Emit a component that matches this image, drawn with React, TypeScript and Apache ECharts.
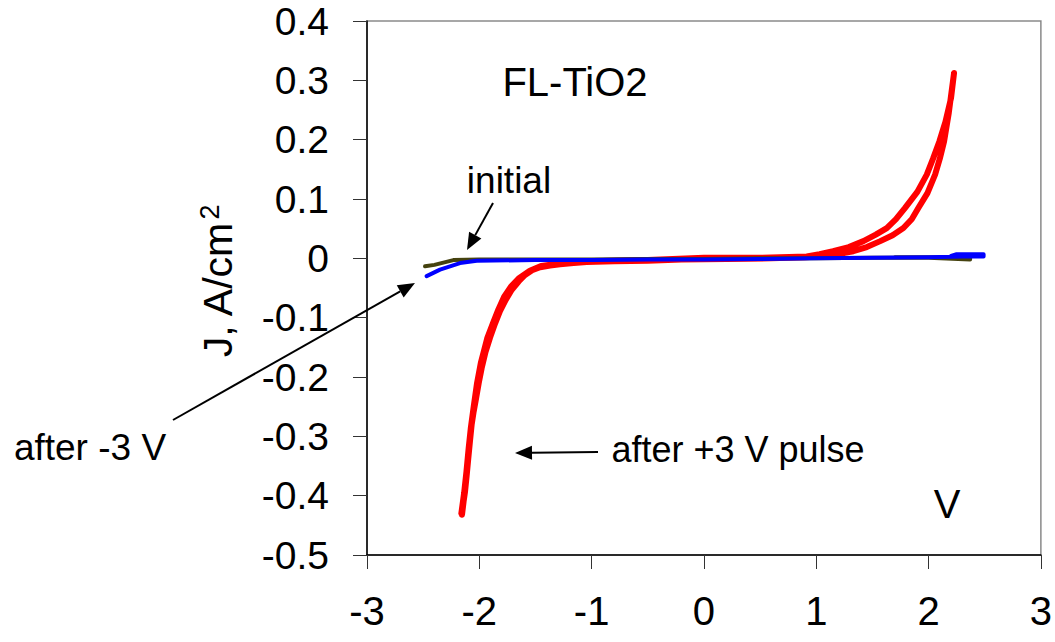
import React, { useEffect, useRef } from "react";
import * as echarts from "echarts";

// Voltage (V) and current density (A/cm2)
const redV = [-2.154, -2.14, -2.127, -2.112, -2.098, -2.083, -2.068, -2.05, -2.029, -2.005, -1.979, -1.945, -1.905, -1.86, -1.816, -1.765, -1.711, -1.65, -1.593, -1.53, -1.459, -1.37, -1.281, -1.16, -1.044, -0.8, -0.5, -0.2, 0.2, 0.6, 0.9, 1.1, 1.33, 1.45, 1.57, 1.68, 1.776, 1.85, 1.909, 1.99, 2.058, 2.1, 2.138, 2.18, 2.227, 2.2, 2.15, 2.096, 2.04, 1.984, 1.9, 1.791, 1.71, 1.628, 1.53, 1.42, 1.29, 1.15, 1.03, 0.915, 0.5, 0.0, -0.5, -1.0, -1.3, -1.45, -1.55, -1.65, -1.72, -1.78, -1.83, -1.88, -1.93, -1.985, -2.02, -2.05, -2.075, -2.095, -2.115, -2.135, -2.16];
const redJ = [-0.432, -0.41, -0.393, -0.365, -0.337, -0.308, -0.28, -0.258, -0.236, -0.21, -0.185, -0.158, -0.134, -0.11, -0.089, -0.07, -0.053, -0.039, -0.028, -0.02, -0.015, -0.012, -0.01, -0.008, -0.006, -0.005, -0.004, -0.002, -0.001, 0.0, 0.002, 0.004, 0.012, 0.019, 0.029, 0.039, 0.051, 0.066, 0.085, 0.11, 0.141, 0.168, 0.197, 0.245, 0.3125, 0.27, 0.23, 0.197, 0.168, 0.141, 0.112, 0.085, 0.066, 0.051, 0.04, 0.029, 0.019, 0.012, 0.007, 0.003, 0.001, 0.001, -0.003, -0.005, -0.009, -0.013, -0.021, -0.034, -0.048, -0.065, -0.086, -0.11, -0.135, -0.175, -0.21, -0.25, -0.285, -0.32, -0.36, -0.395, -0.43];

const initialV = [-2.483, -2.4, -2.231, -2.0, -1.5, -1.0, -0.5, 0.0, 0.5, 1.0, 1.5, 2.0, 2.37, 2.37, 2.1, 1.7];
const initialJ = [-0.0135, -0.011, -0.003, -0.002, -0.002, -0.002, -0.001, -0.001, 0.0, 0.0, 0.001, 0.001, -0.002, 0.002, 0.002, 0.002];

const afterNegV = [-2.469, -2.35, -2.172, -2.023, -1.5, -1.0, -0.5, 0.0, 0.5, 1.0, 1.5, 2.0, 2.3, 2.49, 2.49, 2.25, 2.2];
const afterNegJ = [-0.03, -0.019, -0.008, -0.004, -0.003, -0.003, -0.002, -0.002, -0.001, 0.0, 0.001, 0.002, 0.003, 0.003, 0.007, 0.007, 0.004];

const xTicks = { min: -3, max: 3, interval: 1 };
const yTicks = { min: -0.5, max: 0.4, interval: 0.1 };

const zip = (a: number[], b: number[]) => a.map((v, i) => [v, b[i]]);

function arrow(tail: [number, number], tip: [number, number], len = 17, wid = 14) {
  const dx = tip[0] - tail[0];
  const dy = tip[1] - tail[1];
  const d = Math.hypot(dx, dy);
  const ux = dx / d, uy = dy / d;
  const bx = tip[0] - ux * len, by = tip[1] - uy * len;
  const px = -uy * wid / 2, py = ux * wid / 2;
  return [
    { type: "line", shape: { x1: tail[0], y1: tail[1], x2: bx, y2: by }, style: { stroke: "#000", lineWidth: 2 }, z: 100 },
    { type: "polygon", shape: { points: [[tip[0], tip[1]], [bx + px, by + py], [bx - px, by - py]] }, style: { fill: "#000" }, z: 100 },
  ];
}

export default function App() {
  const ref = useRef<HTMLDivElement>(null);
  useEffect(() => {
    if (!ref.current) return;
    const chart = echarts.init(ref.current, null, { renderer: "svg" });
    const font = "'Liberation Sans', Arial, sans-serif";
    chart.setOption({
      animation: false,
      backgroundColor: "#fff",
      grid: { left: 367, right: 14, top: 21, bottom: 87, show: true, borderColor: "#8a8a8a", borderWidth: 1.5 },
      xAxis: {
        type: "value",
        min: xTicks.min,
        max: xTicks.max,
        interval: xTicks.interval,
        axisLine: { onZero: false, lineStyle: { color: "#000", width: 1.5 } },
        axisTick: { length: 14, lineStyle: { color: "#333", width: 1 } },
        axisLabel: { margin: 36, fontSize: 40, lineHeight: 40, color: "#000", fontFamily: font },
        splitLine: { show: false },
      },
      yAxis: {
        type: "value",
        min: yTicks.min,
        max: yTicks.max,
        interval: yTicks.interval,
        axisLine: { onZero: false, lineStyle: { color: "#000", width: 1.5 } },
        axisTick: { length: 14, lineStyle: { color: "#333", width: 1 } },
        axisLabel: {
          margin: 38,
          fontSize: 39,
          lineHeight: 34,
          color: "#000",
          fontFamily: font,
          formatter: (v: number) => String(Math.round(v * 10) / 10),
        },
        splitLine: { show: false },
      },
      series: [
        {
          type: "line",
          data: zip(redV, redJ),
          showSymbol: false,
          lineStyle: { color: "#ff0000", width: 6, cap: "round", join: "round" },
          z: 2,
        },
        {
          type: "line",
          data: zip(initialV, initialJ),
          showSymbol: false,
          lineStyle: { color: "#45420f", width: 4, cap: "round", join: "round" },
          z: 3,
        },
        {
          type: "line",
          data: zip(afterNegV, afterNegJ),
          showSymbol: false,
          lineStyle: { color: "#0000ff", width: 4, cap: "round", join: "round" },
          z: 4,
        },
      ],
      graphic: [
        { type: "text", x: 575, y: 82, style: { text: "FL-TiO2", fontSize: 40, fontFamily: font, fill: "#000", align: "center", verticalAlign: "middle" }, z: 100 },
        { type: "text", x: 509, y: 180, style: { text: "initial", fontSize: 37, fontFamily: font, fill: "#000", align: "center", verticalAlign: "middle" }, z: 100 },
        { type: "text", x: 90, y: 447, style: { text: "after -3 V", fontSize: 37, fontFamily: font, fill: "#000", align: "center", verticalAlign: "middle" }, z: 100 },
        { type: "text", x: 738, y: 449, style: { text: "after +3 V pulse", fontSize: 36, fontFamily: font, fill: "#000", align: "center", verticalAlign: "middle" }, z: 100 },
        { type: "text", x: 947, y: 504, style: { text: "V", fontSize: 40, fontFamily: font, fill: "#000", align: "center", verticalAlign: "middle" }, z: 100 },
        { type: "text", x: 218, y: 290, rotation: Math.PI / 2, style: { text: "J, A/cm", fontSize: 41, fontFamily: font, fill: "#000", align: "center", verticalAlign: "middle" }, z: 100 },
        { type: "text", x: 210, y: 212, rotation: Math.PI / 2, style: { text: "2", fontSize: 27, fontFamily: font, fill: "#000", align: "center", verticalAlign: "middle" }, z: 100 },
        ...arrow([493, 203], [467, 250]),
        ...arrow([173, 420], [415, 283]),
        ...arrow([598, 452], [515, 453]),
      ],
    });
    return () => chart.dispose();
  }, []);
  return <div ref={ref} style={{ position: "fixed", left: 0, top: 0, width: 1055, height: 642 }} />;
}
